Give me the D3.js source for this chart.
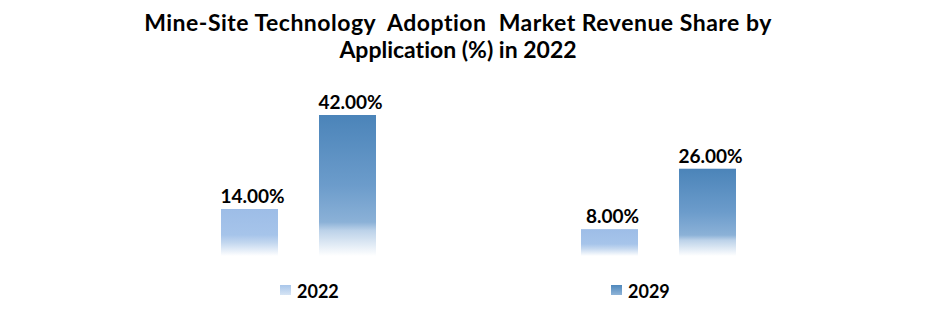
<!DOCTYPE html>
<html><head><meta charset="utf-8">
<script src="https://cdn.jsdelivr.net/npm/d3@7"></script>
<style>
body{margin:0;background:#fff;}
text{font-family:Lato,"Open Sans",sans-serif;font-weight:bold;fill:#000;font-variant-ligatures:none;font-feature-settings:"liga" 0;white-space:pre;}
</style></head>
<body><svg id="c" width="935" height="321"></svg>
<script>
const titleLines = ["Mine-Site Technology  Adoption  Market Revenue Share by", "Application (%) in 2022"];
const categories = ["Group A", "Group B"];
const seriesNames = ["2022", "2029"];
const values2022 = [14, 8];
const values2029 = [42, 26];

const svg = d3.select("#c");
const baseY = 256;
const x0 = d3.scaleBand().domain(categories).range([118.5, 838.5]).paddingInner(0).paddingOuter(0);
const x1 = d3.scaleBand().domain(seriesNames).range([0, 155]).paddingInner(41/98).paddingOuter(0);
const xOff = (360 - 155) / 2;
const y = d3.scaleLinear().domain([0, 42]).range([baseY, 115]);

const defs = svg.append("defs");
const g1 = defs.append("linearGradient").attr("id","gLight").attr("x1",0).attr("y1",0).attr("x2",0).attr("y2",1);
[[0,"#9dbde7"],[0.55,"#a6c4ea"],[0.72,"#c3d7ef"],[1,"#ffffff"]].forEach(s=>g1.append("stop").attr("offset",s[0]).attr("stop-color",s[1]));
const g2 = defs.append("linearGradient").attr("id","gDark").attr("x1",0).attr("y1",0).attr("x2",0).attr("y2",1);
[[0,"#4b84b9"],[0.5,"#6c9ccb"],[0.76,"#8bb1d7"],[0.82,"#bcd2e9"],[1,"#ffffff"]].forEach(s=>g2.append("stop").attr("offset",s[0]).attr("stop-color",s[1]));
const gL1 = defs.append("linearGradient").attr("id","lgLight").attr("x1",0).attr("y1",0).attr("x2",0).attr("y2",1);
[[0,"#a9c6ea"],[1,"#d6e4f4"]].forEach(s=>gL1.append("stop").attr("offset",s[0]).attr("stop-color",s[1]));
const gL2 = defs.append("linearGradient").attr("id","lgDark").attr("x1",0).attr("y1",0).attr("x2",0).attr("y2",1);
[[0,"#4f88bc"],[1,"#8fb4d8"]].forEach(s=>gL2.append("stop").attr("offset",s[0]).attr("stop-color",s[1]));

const fills = {"2022":"url(#gLight)", "2029":"url(#gDark)"};
const lfills = {"2022":"url(#lgLight)", "2029":"url(#lgDark)"};

// title
svg.append("g").selectAll("text").data(titleLines).join("text")
  .attr("x", 458).attr("y",(d,i)=>31 + i*27).attr("text-anchor","middle")
  .style("font-size","23px").style("letter-spacing",(d,i)=>i===0?"0.5px":"0px").text(d=>d);

const data = categories.map((c,i)=>({cat:c, vals:[{s:"2022",v:values2022[i]},{s:"2029",v:values2029[i]}]}));
const groups = svg.append("g").selectAll("g").data(data).join("g")
  .attr("transform", d=>`translate(${x0(d.cat)+xOff},0)`);
groups.selectAll("rect").data(d=>d.vals).join("rect")
  .attr("x", d=>x1(d.s)).attr("width", x1.bandwidth())
  .attr("y", d=>y(d.v)).attr("height", d=>baseY - y(d.v))
  .attr("fill", d=>fills[d.s]);
groups.selectAll("text").data(d=>d.vals).join("text")
  .attr("x", d=>x1(d.s)+x1.bandwidth()/2+3).attr("y", d=>y(d.v)-6)
  .attr("text-anchor","middle").style("font-size","19px")
  .text(d=>d3.format(".2f")(d.v)+"%");

// legend
const legX = {"2022":280, "2029":611};
const leg = svg.append("g").selectAll("g").data(seriesNames).join("g")
  .attr("transform", d=>`translate(${legX[d]},285)`);
leg.append("rect").attr("width",11).attr("height",10).attr("fill", d=>lfills[d]);
leg.append("text").attr("x",17).attr("y",12.5).style("font-size","18px").text(d=>d);
</script></body></html>
